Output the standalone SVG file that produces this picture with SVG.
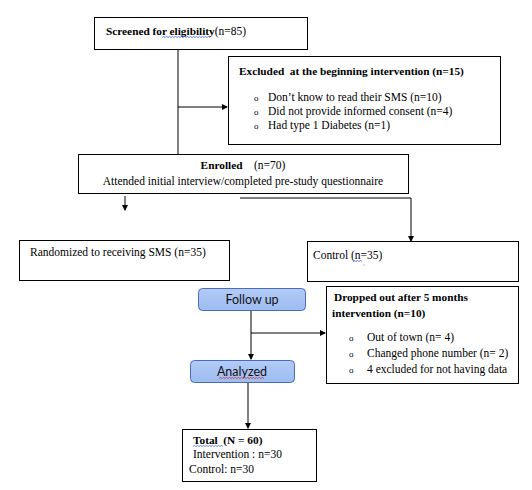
<svg xmlns="http://www.w3.org/2000/svg" width="532" height="490" viewBox="0 0 532 490" font-family="'Liberation Serif','Times New Roman',serif">
<defs>
<marker id="ah" markerWidth="6" markerHeight="6" refX="5" refY="3" orient="auto" markerUnits="userSpaceOnUse">
<path d="M0,0 L6,3 L0,6 z" fill="#000"/>
</marker>
<linearGradient id="bl" x1="0" y1="0" x2="0" y2="1">
<stop offset="0" stop-color="#b3cbf6"/>
<stop offset="1" stop-color="#9dbcf1"/>
</linearGradient>
</defs>
<style>
.box{fill:#fff;stroke:#000;stroke-width:1}
.rb{fill:url(#bl);stroke:#4a6cb3;stroke-width:1}
text{font-family:"Liberation Serif","Times New Roman",serif;font-size:11.5px;fill:#000}
.b{font-weight:bold;font-size:11.3px}
.o{font-size:9px}
.s{font-family:Lato,"Liberation Sans",Arial,sans-serif;font-size:12.5px;fill:#111}
.ln{fill:none;stroke:#000;stroke-width:1}
.sq{fill:none;stroke-width:0.8}
</style>
<rect width="532" height="490" fill="#fff"/>
<g id="connectors">
<path class="ln" d="M178,49 V155"/>
<path class="ln" d="M178,107 H227" marker-end="url(#ah)"/>
<path class="ln" d="M125,196 V210" marker-end="url(#ah)"/>
<path class="ln" d="M240,198 H411 V241" marker-end="url(#ah)"/>
<path class="ln" d="M251,310 V359" marker-end="url(#ah)"/>
<path class="ln" d="M251,333 H325" marker-end="url(#ah)"/>
<path class="ln" d="M248,382 V428" marker-end="url(#ah)"/>
</g>
<g id="screened">
<rect class="box" x="94.5" y="17.5" width="213" height="32"/>
<text x="106" y="35"><tspan class="b">Screened for eligibility</tspan>(n=85)</text>
<path class="sq" stroke="#4169e1" d="M162,37.5 l1.5,-1 l1.5,1 l1.5,-1 l1.5,1 l1.5,-1 l1.5,1 l1.5,-1 l1.5,1 l1.5,-1 l1.5,1 l1.5,-1 l1.5,1 l1.5,-1 l1.5,1 l1.5,-1 l1.5,1 l1.5,-1 l1.5,1 l1.5,-1 l1.5,1 l1.5,-1 l1.5,1 l1.5,-1 l1.5,1 l1.5,-1 l1.5,1 l1.5,-1 l1.5,1 l1.5,-1 l1.5,1 l1.5,-1 l1.5,1"/>
</g>
<g id="excluded">
<rect class="box" x="228.5" y="56.5" width="272" height="88"/>
<text class="b" x="239" y="75" xml:space="preserve">Excluded  at the beginning intervention (n=15)</text>
<text class="o" x="254" y="101">o</text><text x="268" y="101">Don’t know to read their SMS (n=10)</text>
<text class="o" x="254" y="115">o</text><text x="268" y="115">Did not provide informed consent (n=4)</text>
<text class="o" x="254" y="129">o</text><text x="268" y="129">Had type 1 Diabetes (n=1)</text>
</g>
<g id="enrolled">
<rect class="box" x="78.5" y="154.5" width="330" height="39"/>
<text x="243" y="169" text-anchor="middle" xml:space="preserve"><tspan class="b">Enrolled</tspan>    (n=70)</text>
<text x="243" y="185" text-anchor="middle">Attended initial interview/completed pre-study questionnaire</text>
</g>
<g id="randomized">
<rect class="box" x="19.5" y="240.5" width="210" height="40"/>
<text x="30" y="256">Randomized to receiving SMS (n=35)</text>
</g>
<g id="control">
<rect class="box" x="307.5" y="241.5" width="211" height="40"/>
<text x="313" y="259">Control (n=35)</text>
<path class="sq" stroke="#4169e1" d="M353,261.5 l1.5,-1 l1.5,1 l1.5,-1 l1.5,1 l1.5,-1 l1.5,1"/>
<circle cx="364" cy="265" r="0.6" fill="#4169e1"/>
</g>
<g id="followup">
<rect class="rb" x="198.5" y="288.5" width="107" height="22" rx="4"/>
<text class="s" x="252" y="304" text-anchor="middle">Follow up</text>
</g>
<g id="dropped">
<rect class="box" x="326.5" y="286.5" width="192" height="97"/>
<text class="b" x="334" y="301">Dropped out after 5 months</text>
<text class="b" x="332" y="317">intervention (n=10)</text>
<text class="o" x="349" y="341">o</text><text x="367" y="341">Out of town (n= 4)</text>
<text class="o" x="349" y="357">o</text><text x="367" y="357">Changed phone number (n= 2)</text>
<text class="o" x="349" y="373">o</text><text x="367" y="373">4 excluded for not having data</text>
</g>
<g id="analyzed">
<rect class="rb" x="190.5" y="360.5" width="104" height="22" rx="4"/>
<text class="s" x="242" y="376" text-anchor="middle">Analyzed</text>
<path class="sq" stroke="#e03030" d="M219,378.5 l1.5,-1 l1.5,1 l1.5,-1 l1.5,1 l1.5,-1 l1.5,1 l1.5,-1 l1.5,1 l1.5,-1 l1.5,1 l1.5,-1 l1.5,1 l1.5,-1 l1.5,1 l1.5,-1 l1.5,1 l1.5,-1 l1.5,1 l1.5,-1 l1.5,1 l1.5,-1 l1.5,1 l1.5,-1 l1.5,1 l1.5,-1 l1.5,1 l1.5,-1 l1.5,1 l1.5,-1 l1.5,1"/>
</g>
<g id="total">
<rect class="box" x="182.5" y="429.5" width="134" height="52"/>
<text class="b" x="193" y="444" xml:space="preserve">Total  (N = 60)</text>
<path class="sq" stroke="#4169e1" d="M193,446.5 l1.5,-1 l1.5,1 l1.5,-1 l1.5,1 l1.5,-1 l1.5,1 l1.5,-1 l1.5,1 l1.5,-1 l1.5,1 l1.5,-1 l1.5,1 l1.5,-1 l1.5,1 l1.5,-1 l1.5,1 l1.5,-1 l1.5,1 l1.5,-1 l1.5,1"/>
<text x="193" y="458">Intervention : n=30</text>
<text x="189" y="473">Control: n=30</text>
</g>
</svg>
